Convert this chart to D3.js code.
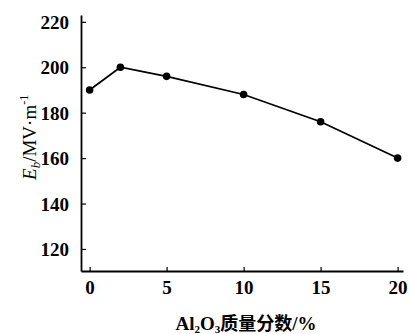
<!DOCTYPE html>
<html>
<head>
<meta charset="utf-8">
<script src="https://cdn.jsdelivr.net/npm/d3@7"></script>
<style>
  body { margin: 0; background: #fff; }
  text { font-family: "Liberation Serif", "DejaVu Serif", serif; }
</style>
</head>
<body>
<div id="chart"></div>
<script>
// data
const alumina = [0, 2, 5, 10, 15, 20];
const breakdown = [190, 200, 196, 188, 176, 160];
const xTicks = [0, 5, 10, 15, 20];
const yTicks = [120, 140, 160, 180, 200, 220];

const width = 409, height = 334;
const margin = { left: 81, right: 6, top: 15, bottom: 63 };

const svg = d3.select("#chart").append("svg")
  .attr("width", width)
  .attr("height", height);

const x = d3.scaleLinear().domain([-0.56, 20.35]).range([margin.left, width - margin.right]);
const y = d3.scaleLinear().domain([110.3, 223]).range([height - margin.bottom, margin.top]);

// axes
const xAxis = svg.append("g")
  .attr("transform", `translate(0,${height - margin.bottom})`)
  .call(d3.axisBottom(x).tickValues(xTicks).tickSizeInner(-4).tickSizeOuter(0).tickPadding(8));
const yAxis = svg.append("g")
  .attr("transform", `translate(${margin.left},0)`)
  .call(d3.axisLeft(y).tickValues(yTicks).tickSizeInner(-5).tickSizeOuter(0).tickPadding(12));

[xAxis, yAxis].forEach(g => {
  g.select(".domain").attr("stroke", "#000").attr("stroke-width", 1.8);
  g.selectAll(".tick line").attr("stroke", "#000").attr("stroke-width", 1.2);
  g.selectAll(".tick text")
    .attr("fill", "#000")
    .style("font-size", "19px")
    .style("font-weight", "bold")
    .style("font-family", "'Liberation Serif', serif");
});
xAxis.selectAll(".tick text").attr("dy", "0.8em");
yAxis.selectAll(".tick text").attr("dy", "0.34em");

// line + markers
const line = d3.line().x((d, i) => x(alumina[i])).y(d => y(d));
svg.append("path")
  .datum(breakdown)
  .attr("fill", "none")
  .attr("stroke", "#000")
  .attr("stroke-width", 1.7)
  .attr("d", line);

svg.selectAll("circle.pt")
  .data(breakdown)
  .enter()
  .append("circle")
  .attr("class", "pt")
  .attr("cx", (d, i) => x(alumina[i]))
  .attr("cy", d => y(d))
  .attr("r", 3.8)
  .attr("fill", "#000");

// y label
const yl = svg.append("text")
  .attr("transform", `translate(36,${(y(220) + y(120)) / 2 + 2}) rotate(-90)`)
  .attr("text-anchor", "middle")
  .style("font-size", "19px")
  .attr("fill", "#000");
yl.append("tspan").attr("font-style", "italic").text("E");
yl.append("tspan").attr("font-style", "italic").style("font-size", "13px").attr("dy", 4).text("b");
yl.append("tspan").attr("dy", -4).text("/MV·m");
yl.append("tspan").style("font-size", "12px").attr("dy", -8).text("-1");

// x label
const xl = svg.append("text")
  .attr("x", 246)
  .attr("y", 330)
  .attr("text-anchor", "middle")
  .style("font-size", "19px")
  .style("font-weight", "bold")
  .attr("fill", "#000");
xl.append("tspan").text("Al");
xl.append("tspan").style("font-size", "11px").attr("dy", 3).text("2");
xl.append("tspan").attr("dy", -3).text("O");
xl.append("tspan").style("font-size", "11px").attr("dy", 3).text("3");
xl.append("tspan").attr("dy", -3)
  .style("font-family", "'Noto Sans CJK SC', sans-serif")
  .style("font-size", "18px")
  .text("质量分数");
xl.append("tspan").text("/%");
</script>
</body>
</html>
